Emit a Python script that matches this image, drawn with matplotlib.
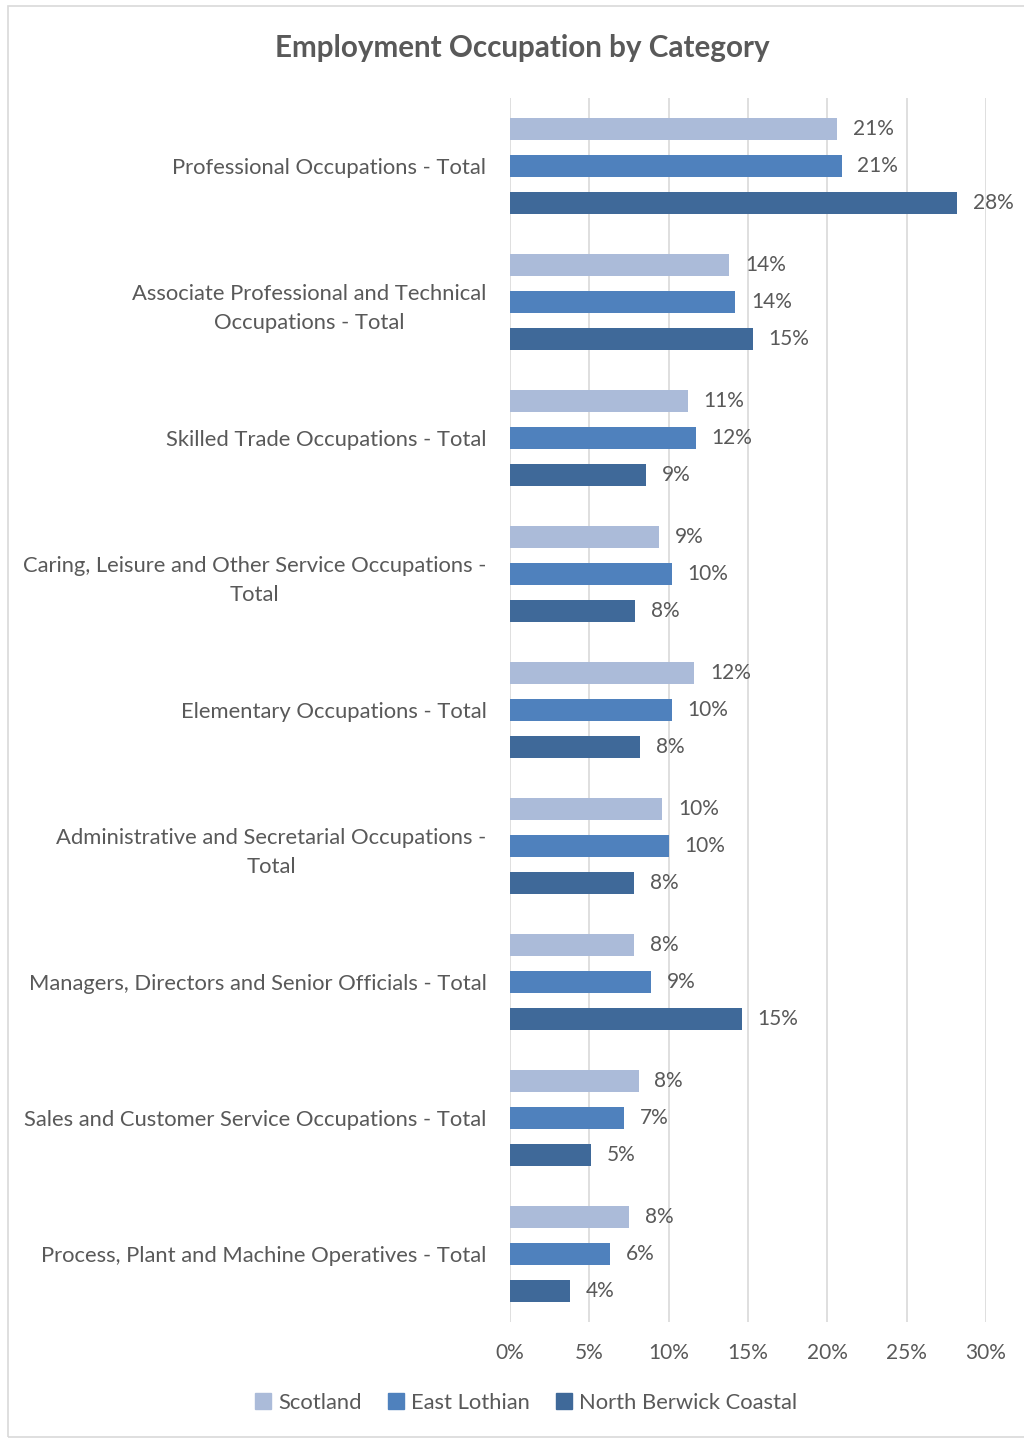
import matplotlib
matplotlib.use("Agg")
import matplotlib.pyplot as plt
import numpy as np
from matplotlib.patches import Rectangle

plt.rcParams['font.family'] = ['Lato', 'DejaVu Sans']

categories = [
    "Professional Occupations - Total",
    "Associate Professional and Technical\nOccupations - Total",
    "Skilled Trade Occupations - Total",
    "Caring, Leisure and Other Service Occupations -\nTotal",
    "Elementary Occupations - Total",
    "Administrative and Secretarial Occupations -\nTotal",
    "Managers, Directors and Senior Officials - Total",
    "Sales and Customer Service Occupations - Total",
    "Process, Plant and Machine Operatives - Total",
]
series_names = ["Scotland", "East Lothian", "North Berwick Coastal"]
scotland = [20.6, 13.8, 11.2, 9.4, 11.6, 9.6, 7.8, 8.1, 7.5]
east_lothian = [20.9, 14.2, 11.7, 10.2, 10.2, 10.0, 8.9, 7.2, 6.3]
north_berwick = [28.2, 15.3, 8.6, 7.9, 8.2, 7.8, 14.6, 5.1, 3.8]
xticks = [0, 5, 10, 15, 20, 25, 30]
colors = ["#abbbd9", "#4f81bd", "#3f6999"]
text_color = "#595959"

fig = plt.figure(figsize=(10.24, 14.39), dpi=100)
fig.patches.append(Rectangle((8/1024, 2/1439), 1.2, 1 - 8/1439, transform=fig.transFigure,
                             fill=False, edgecolor="#d9d9d9", linewidth=1.2))
ax = fig.add_axes([510/1024, 1 - 1322/1439, 476/1024, (1322 - 98)/1439])

y = np.arange(len(categories))
h = 0.162
off = 0.272
data = [scotland, east_lothian, north_berwick]
for i, (vals, name, c) in enumerate(zip(data, series_names, colors)):
    pos = y + (i - 1) * off
    ax.barh(pos, vals, height=h, color=c, label=name, zorder=3)
    for p, v in zip(pos, vals):
        ax.text(v + 1.0, p, f"{round(v):.0f}%", va="center", ha="left",
                fontsize=15, color=text_color)

ax.set_ylim(len(categories) - 0.5, -0.5)
ax.set_xlim(0, 30)
ax.set_xticks(xticks)
ax.set_xticklabels([f"{t}%" for t in xticks], fontsize=15, color=text_color)
ax.set_yticks(y)
ax.set_yticklabels(categories, fontsize=15.8, color=text_color, ha="right",
                   multialignment="center", linespacing=1.55)
ax.tick_params(axis="both", length=0)
ax.tick_params(axis="y", pad=17)
ax.tick_params(axis="x", pad=15)
ax.grid(axis="x", color="#d9d9d9", linewidth=1.2, zorder=0)
for s in ax.spines.values():
    s.set_visible(False)

fig.text(522/1024, 1 - 48/1439, "Employment Occupation by Category", ha="center", va="center",
         fontsize=21.3, fontweight="bold", color=text_color)

handles = [Rectangle((0, 0), 1, 1, color=c) for c in colors]
fig.legend(handles, series_names, loc="center", bbox_to_anchor=(526/1024, 1 - 1403/1439),
           ncol=3, frameon=False, fontsize=15.8, labelcolor=text_color,
           handlelength=0.75, handleheight=0.75, handletextpad=0.3, columnspacing=1.2)

fig.savefig("out.png", dpi=100, facecolor="white")
